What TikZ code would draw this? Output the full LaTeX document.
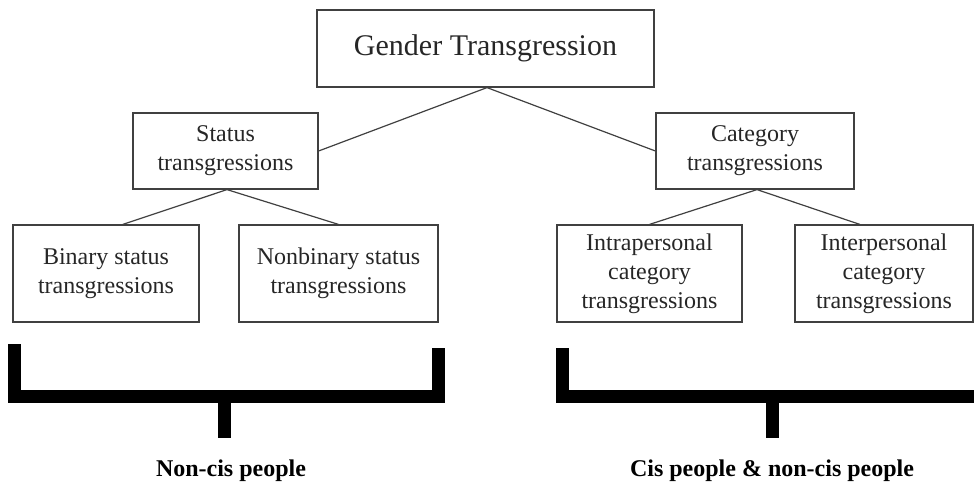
\documentclass[tikz,border=0pt]{standalone}
\usepackage{fontspec}
\setmainfont{Liberation Serif}
\usepackage{tikz}
\usetikzlibrary{calc}

\begin{document}
\begin{tikzpicture}[x=1pt,y=-1pt,
    box/.style={draw=black!75, line width=1.2pt, inner sep=0pt, align=center,
        text=black!85, font=\fontsize{24}{29}\selectfont},
    link/.style={draw=black!75, line width=1.2pt},
    brace/.style={line width=13pt, line join=miter},
    group/.style={anchor=base, font=\fontsize{24}{29}\selectfont\bfseries}]
    \useasboundingbox (0,0) rectangle (974,483);

    \node[box, minimum width=337pt, minimum height=77pt, font=\fontsize{30}{36}\selectfont]
        (gender) at (485.5,48.5) {Gender Transgression};

    \node[box, minimum width=185pt, minimum height=76pt] (status) at (225.5,151) {Status\\transgressions};
    \node[box, minimum width=198pt, minimum height=76pt] (category) at (755,151) {Category\\transgressions};

    \node[box, minimum width=186pt, minimum height=97pt] (binary) at (106,273.5) {Binary status\\transgressions};
    \node[box, minimum width=199pt, minimum height=97pt] (nonbinary) at (338.5,273.5) {Nonbinary status\\transgressions};
    \node[box, minimum width=185pt, minimum height=97pt] (intra) at (649.5,273.5) {Intrapersonal\\category\\transgressions};
    \node[box, minimum width=178pt, minimum height=97pt] (inter) at (884,273.5) {Interpersonal\\category\\transgressions};

    \draw[link] (status.east) -- ($(gender.south)+(1.5,0)$) -- (category.west);
    \draw[link] ($(binary.north west)!0.59!(binary.north east)$) -- ($(status.south)+(1.5,0)$) -- (nonbinary.north);
    \draw[link] (intra.north) -- ($(category.south)+(2,0)$) -- ($(inter.north west)!0.365!(inter.north east)$);

    \draw[brace] (14,344) -- (14,396) -- (438,396) -- (438,348);
    \draw[brace] (224,396) -- (224,438);
    \draw[brace] (562.5,348) -- (562.5,396) -- (974,396);
    \draw[brace] (772,396) -- (772,438);

    \node[group] (noncis) at (231,476) {Non-cis people};
    \node[group] (both) at (772,476) {Cis people \& non-cis people};
\end{tikzpicture}
\end{document}
